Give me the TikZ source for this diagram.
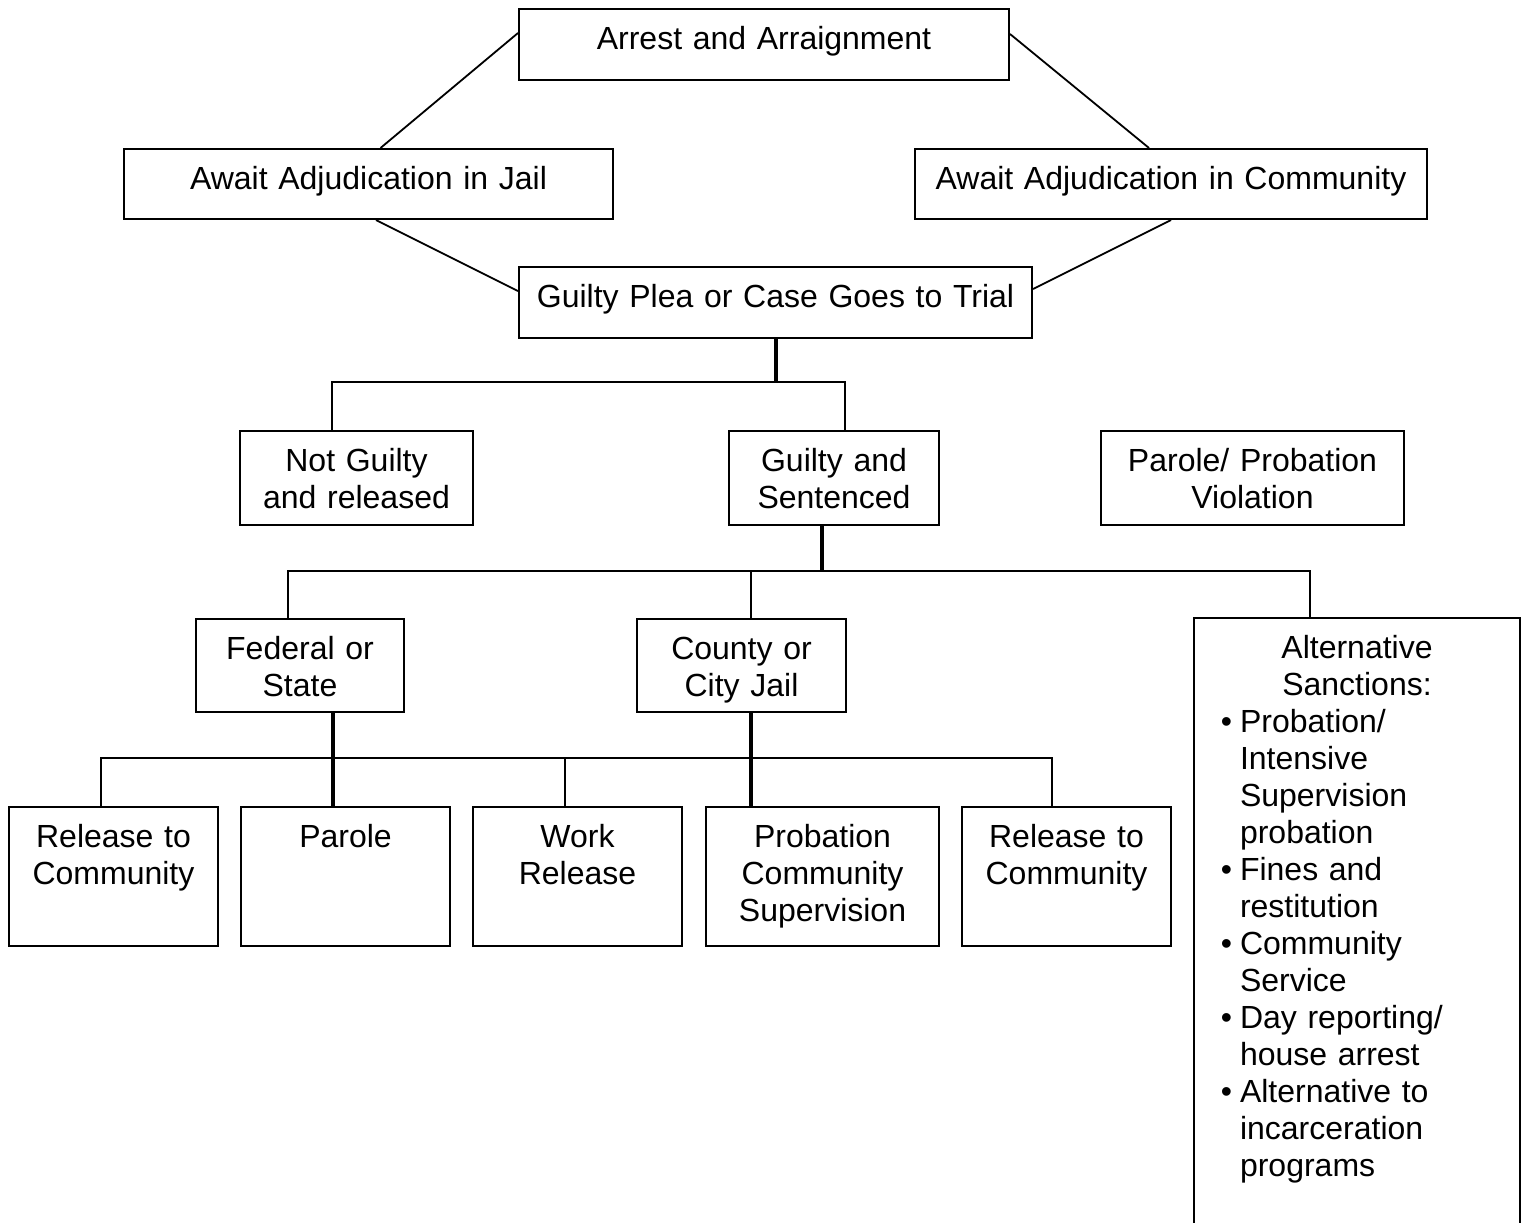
\documentclass[tikz,border=0pt]{standalone}
\usepackage{fontspec}
\setmainfont{Liberation Sans}
\usetikzlibrary{positioning, calc}

\begin{document}
\begin{tikzpicture}[
		x=0.5pt, y=-0.5pt,
		box/.style 2 args={rectangle, draw, line width=1pt, anchor=north west, inner sep=0pt, text width=#1, align=center, text height=20pt, text depth=#2-20pt},
		link/.style={line width=0.9pt},
		twig/.style={line width=0.7pt},
		trunk/.style={line width=2pt},
		font=\fontsize{16}{18.5}\selectfont
	]

	\clip (0,0) rectangle (1524,1222);

	\node[box={245pt}{35.5pt}] (arrest) at (518,8) {Arrest and Arraignment};
	\node[box={244.5pt}{35pt}] (jail) at (123,148) {Await Adjudication in Jail};
	\node[box={256pt}{35pt}] (comm) at (914,148) {Await Adjudication in Community};
	\node[box={256.5pt}{35.5pt}] (plea) at (518,266) {Guilty Plea or Case Goes to Trial};
	\node[box={116.5pt}{47pt}] (notg) at (239,430) {Not Guilty\\and released};
	\node[box={105pt}{47pt}] (guilty) at (728,430) {Guilty and\\Sentenced};
	\node[box={151.5pt}{47pt}] (viol) at (1100,430) {Parole/ Probation\\Violation};
	\node[box={104pt}{46.5pt}] (fed) at (195,618) {Federal or\\State};
	\node[box={104.5pt}{46.5pt}] (county) at (636,618) {County or\\City Jail};
	\node[box={104.5pt}{69.5pt}] (rel1) at (8,806) {Release to\\Community};
	\node[box={104.5pt}{69.5pt}] (parole) at (240,806) {Parole};
	\node[box={104.5pt}{69.5pt}] (work) at (472,806) {Work\\Release};
	\node[box={116.5pt}{69.5pt}] (prob) at (705,806) {Probation\\Community\\Supervision};
	\node[box={104.5pt}{69.5pt}] (rel2) at (961,806) {Release to\\Community};
	\node[box={163pt}{320pt}, align=left] (alt) at (1193,617) {{\centering Alternative\\Sanctions:\par}
		\leftskip=23pt
		\leavevmode\llap{•\hspace{4pt}}Probation/\\Intensive\\Supervision\\probation\par
		\leavevmode\llap{•\hspace{4pt}}Fines and\\restitution\par
		\leavevmode\llap{•\hspace{4pt}}Community\\Service\par
		\leavevmode\llap{•\hspace{4pt}}Day reporting/\\house arrest\par
		\leavevmode\llap{•\hspace{4pt}}Alternative to\\incarceration\\programs\par};

	\coordinate (ja) at (332,382);
	\coordinate (jb) at (845,382);
	\coordinate (jc) at (288,571);
	\coordinate (jd) at (1310,571);
	\coordinate (jk) at (822,571);
	\coordinate (je) at (101,758);
	\coordinate (jf) at (1052,758);
	\coordinate (jg) at (333,758);
	\coordinate (jh) at (751,758);
	\coordinate (ji) at (565,758);

	% slanted links round the waiting boxes
	\draw[link] ([yshift=5.75pt]arrest.west) -- ([xshift=6pt]jail.north);
	\draw[link] ([yshift=5.25pt]arrest.east) -- ([xshift=-11pt]comm.north);
	\draw[link] ([xshift=3.75pt]jail.south) -- ([yshift=5.75pt]plea.west);
	\draw[link] ([yshift=6.75pt]plea.east) -- (comm.south);

	\foreach \a/\b/\c/\d in {notg/ja/jb/guilty, fed/jc/jd/alt, rel1/je/jf/rel2}
		\draw[link] (\a.north -| \b) |- (\c) -- (\d.north -| \c);

	\draw[twig] (county.north -| jh) -- (jh |- jc);
	\draw[twig] (work.north -| ji) -- (ji);

	\draw[trunk] (plea.south) -- (plea.south |- ja);
	\draw[trunk] (guilty.south -| jk) -- (jk);
	\draw[trunk] (fed.south -| jg) -- (parole.north -| jg);
	\draw[trunk] (county.south -| jh) -- (prob.north -| jh);

\end{tikzpicture}
\end{document}
